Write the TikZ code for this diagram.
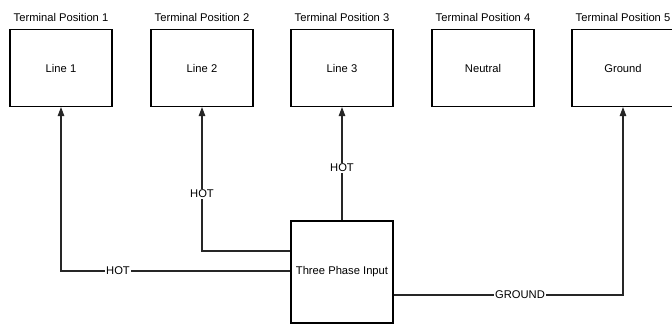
\documentclass[tikz,border=0pt]{standalone}
\usepackage{fontspec}
\setmainfont{Liberation Sans}
\usetikzlibrary{arrows.meta}
\begin{document}
\begin{tikzpicture}[x=1pt,y=-1pt,
  every node/.style={font=\fontsize{11.2}{13}\selectfont},
  termbox/.style={draw=black,line width=1.1pt,minimum width=102pt,minimum height=77pt,inner sep=0pt},
  inbox/.style={draw=black,line width=1.1pt,minimum width=102pt,minimum height=102pt,inner sep=0pt},
  title/.style={inner sep=0pt},
  wire/.style={draw=black!85,line width=1.1pt},
  arrowwire/.style={wire,-{Triangle[length=9pt,width=6.5pt]}},
  wlabel/.style={fill=white,inner sep=1pt}
]
\useasboundingbox (0,0) rectangle (672,325);
\fill[white] (0,0) rectangle (672,325);

\node[termbox] (l1) at (61,68) {Line 1};
\node[termbox] (l2) at (202,68) {Line 2};
\node[termbox] (l3) at (342,68) {Line 3};
\node[termbox] (ne) at (483,68) {Neutral};
\node[termbox] (gr) at (623,68) {Ground};

\node[title] (t1) at (61,17) {Terminal Position 1};
\node[title] (t2) at (202,17) {Terminal Position 2};
\node[title] (t3) at (342,17) {Terminal Position 3};
\node[title] (t4) at (483,17) {Terminal Position 4};
\node[title] (t5) at (623,17) {Terminal Position 5};

\node[inbox] (in) at (342,272) {Three Phase Input};

\coordinate (c1) at (61,271);
\coordinate (c2) at (202,251);
\coordinate (cg) at (623,295);

\draw[arrowwire] (in.west |- c1) -- (c1) -- (l1.south);
\draw[arrowwire] (in.west |- c2) -- (c2) -- (l2.south);
\draw[arrowwire] (in.north) -- (l3.south);
\draw[arrowwire] (in.east |- cg) -- (cg) -- (gr.south);

\node[wlabel] (h1) at (118,271) {HOT};
\node[wlabel] (h2) at (202,194) {HOT};
\node[wlabel] (h3) at (342,168) {HOT};
\node[wlabel] (hg) at (520,295) {GROUND};
\end{tikzpicture}
\end{document}
